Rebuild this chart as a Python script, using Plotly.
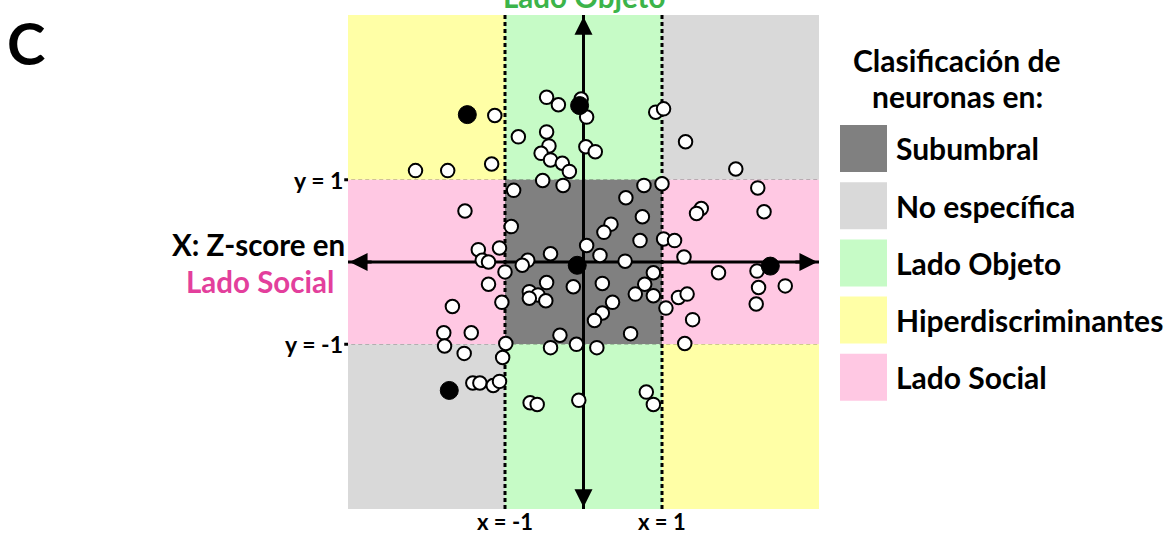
import plotly.graph_objects as go

# Z-scores of each neuron: X = Lado Social, Y = Lado Objeto
x_neuronas = [
    -1.13, -0.83, -0.47, -0.32, -0.03, 0.04, -0.47, -0.44, -0.54, -0.42,
    -0.27, -0.18, 0.03, 0.15, -1.17, -2.14, -1.73, -0.52, -0.26, -0.89,
    -1.51, -0.92, -1.34, -1.07, -1.29, -1.21, -0.71, -0.78, -0.42, 0.04,
    -1.00, 0.92, 1.02, 1.30, 1.94, 0.77, 1.00, 2.22, 0.54, 1.50,
    1.44, 2.30, 0.75, 0.35, 0.26, 0.72, 1.02, 1.16, 0.21, 0.53,
    1.28, 2.21, 1.72, 0.89, -1.21, -0.47, -0.13, 0.24, 0.78, -0.69,
    -0.58, -0.48, -0.69, -1.04, 0.66, 0.89, 0.37, 0.24, 0.14, 1.05,
    1.21, 1.32, 1.39, 2.23, 2.57, 2.20, -1.67, -1.78, -1.43, -1.77,
    -1.52, -1.03, -0.99, -0.30, 0.60, -0.42, -0.09, 0.17, 1.29, -1.41,
    -1.32, -1.15, -1.07, -0.68, -0.59, -0.06, 0.80, 0.89,
]
y_neuronas = [
    1.78, 1.52, 2.00, 1.91, 1.98, 1.76, 1.58, 1.41, 1.32, 1.24,
    1.20, 1.10, 1.40, 1.34, 1.19, 1.11, 1.11, 0.99, 0.93, 0.87,
    0.62, 0.43, 0.15, 0.17, 0.02, 0.00, 0.02, -0.04, 0.10, 0.20,
    -0.12, 1.82, 1.86, 1.46, 1.13, 0.93, 0.95, 0.90, 0.78, 0.65,
    0.59, 0.61, 0.55, 0.46, 0.36, 0.26, 0.28, 0.26, 0.08, 0.01,
    0.06, -0.11, -0.13, -0.13, -0.27, -0.25, -0.30, -0.26, -0.27, -0.36,
    -0.40, -0.47, -0.44, -0.49, -0.39, -0.41, -0.49, -0.62, -0.71, -0.56,
    -0.43, -0.39, -0.70, -0.31, -0.29, -0.51, -0.54, -0.86, -0.86, -1.02,
    -1.11, -1.16, -0.99, -0.89, -0.87, -1.04, -1.00, -1.04, -0.99, -1.47,
    -1.47, -1.50, -1.45, -1.71, -1.73, -1.68, -1.58, -1.73,
]

# Highlighted example neurons
x_ejemplos = [-1.48, -0.05, -0.08, 2.38, -1.71]
y_ejemplos = [1.79, 1.90, -0.04, -0.05, -1.56]

# Classification thresholds and plotted range
umbral = 1
limite = 3

categorias = ["Subumbral", "No específica", "Lado Objeto", "Hiperdiscriminantes", "Lado Social"]
colores = {
    "Subumbral": "#808080",
    "No específica": "#D9D9D9",
    "Lado Objeto": "#C6FBC6",
    "Hiperdiscriminantes": "#FFFFA6",
    "Lado Social": "#FFC8E3",
}

# Region class for each cell of the 3x3 grid (columns: x<-1, |x|<1, x>1)
bandas = [(-limite, -umbral), (-umbral, umbral), (umbral, limite)]
clase_celda = {
    (0, 2): "Hiperdiscriminantes", (1, 2): "Lado Objeto", (2, 2): "No específica",
    (0, 1): "Lado Social", (1, 1): "Subumbral", (2, 1): "Lado Social",
    (0, 0): "No específica", (1, 0): "Lado Objeto", (2, 0): "Hiperdiscriminantes",
}

FONT = "Lato"
PINK_TEXT = "#E33F9C"
GREEN_TEXT = "#3CB44A"
DASH = dict(color="black", width=3, dash="4px,3px")

fig = go.Figure()

shapes = []
for (ix, iy), clase in clase_celda.items():
    shapes.append(dict(
        type="rect", xref="x", yref="y", layer="below",
        x0=bandas[ix][0], x1=bandas[ix][1], y0=bandas[iy][0], y1=bandas[iy][1],
        fillcolor=colores[clase], line=dict(width=0),
    ))

# Dashed threshold lines
for v in (-umbral, umbral):
    shapes.append(dict(type="line", xref="x", yref="y", layer="below",
                       x0=v, x1=v, y0=-limite, y1=limite, line=DASH))
    shapes.append(dict(type="line", xref="paper", yref="y", layer="below",
                       x0=-0.008, x1=1, y0=v, y1=v, line=DASH))

# Axis lines through the origin (below the points)
shapes.append(dict(type="line", xref="x", yref="y", layer="below",
                   x0=-limite, x1=limite, y0=0, y1=0,
                   line=dict(color="black", width=3)))
shapes.append(dict(type="line", xref="x", yref="y", layer="below",
                   x0=0, x1=0, y0=-limite, y1=limite,
                   line=dict(color="black", width=3)))

fig.add_trace(go.Scatter(
    x=x_neuronas, y=y_neuronas, mode="markers",
    marker=dict(size=13.5, color="white", line=dict(color="black", width=2)),
    hoverinfo="skip", showlegend=False,
))
fig.add_trace(go.Scatter(
    x=x_ejemplos, y=y_ejemplos, mode="markers",
    marker=dict(size=18, color="black", line=dict(color="black", width=1)),
    hoverinfo="skip", showlegend=False,
))

annotations = []

# Arrowheads at both ends of each axis
tip = limite - 0.02
for (x, y, ax, ay) in [(tip, 0, tip - 0.3, 0), (-tip, 0, -tip + 0.3, 0),
                       (0, tip, 0, tip - 0.3), (0, -tip, 0, -tip + 0.3)]:
    annotations.append(dict(
        x=x, y=y, ax=ax, ay=ay, xref="x", yref="y", axref="x", ayref="y",
        text="", showarrow=True, arrowhead=2, arrowsize=1.2, arrowwidth=3,
        arrowcolor="black",
    ))

bold = dict(family=FONT, color="black")

# Threshold labels
for v, txt in [(umbral, "y = 1"), (-umbral, "y = -1")]:
    annotations.append(dict(x=-0.007, y=v, xref="paper", yref="y", text=f"<b>{txt}</b>",
                            showarrow=False, xanchor="right", yanchor="middle",
                            font=dict(size=23, **bold)))
for v, txt in [(-umbral, "x = -1"), (umbral, "x = 1")]:
    annotations.append(dict(x=v, y=-0.025, xref="x", yref="paper", text=f"<b>{txt}</b>",
                            showarrow=False, xanchor="center", yanchor="middle",
                            font=dict(size=22, **bold)))

# Axis titles
annotations.append(dict(x=-0.19, y=0.535, xref="paper", yref="paper",
                        text="<b>X: Z-score en</b>", showarrow=False,
                        xanchor="center", yanchor="middle", font=dict(size=29.5, **bold)))
annotations.append(dict(x=-0.187, y=0.4615, xref="paper", yref="paper",
                        text="<b>Lado Social</b>", showarrow=False,
                        xanchor="center", yanchor="middle",
                        font=dict(size=29.5, family=FONT, color=PINK_TEXT)))
annotations.append(dict(x=0, y=1.038, xref="x", yref="paper",
                        text="<b>Lado Objeto</b>", showarrow=False,
                        xanchor="center", yanchor="middle",
                        font=dict(size=29.5, family=FONT, color=GREEN_TEXT)))

# Panel letter
annotations.append(dict(x=-0.683, y=0.945, xref="paper", yref="paper",
                        text="<b>C</b>", showarrow=False,
                        xanchor="center", yanchor="middle", font=dict(size=58, **bold)))

# Legend
def px_x(p):
    return (p - 348) / 471

def px_y(p):
    return (509 - p) / 494

annotations.append(dict(x=px_x(957), y=px_y(60), xref="paper", yref="paper",
                        text="<b>Clasificación de</b>", showarrow=False,
                        xanchor="center", yanchor="middle", font=dict(size=30, **bold)))
annotations.append(dict(x=px_x(957), y=px_y(96), xref="paper", yref="paper",
                        text="<b>neuronas en:</b>", showarrow=False,
                        xanchor="center", yanchor="middle", font=dict(size=30, **bold)))

for i, cat in enumerate(categorias):
    cy = 148.5 + i * 57.2
    shapes.append(dict(type="rect", xref="paper", yref="paper",
                       x0=px_x(840), x1=px_x(887), y0=px_y(cy - 23.5), y1=px_y(cy + 23.5),
                       fillcolor=colores[cat], line=dict(width=0)))
    annotations.append(dict(x=px_x(894), y=px_y(cy), xref="paper", yref="paper",
                            text=f"<b>{cat}</b>", showarrow=False,
                            xanchor="left", yanchor="middle", font=dict(size=30, **bold)))

fig.update_layout(
    width=1170, height=535,
    margin=dict(l=348, r=351, t=15, b=26),
    paper_bgcolor="white", plot_bgcolor="white",
    xaxis=dict(range=[-limite, limite], visible=False, fixedrange=True),
    yaxis=dict(range=[-limite, limite], visible=False, fixedrange=True),
    shapes=shapes, annotations=annotations,
    showlegend=False,
)

fig.write_html("out.html")
